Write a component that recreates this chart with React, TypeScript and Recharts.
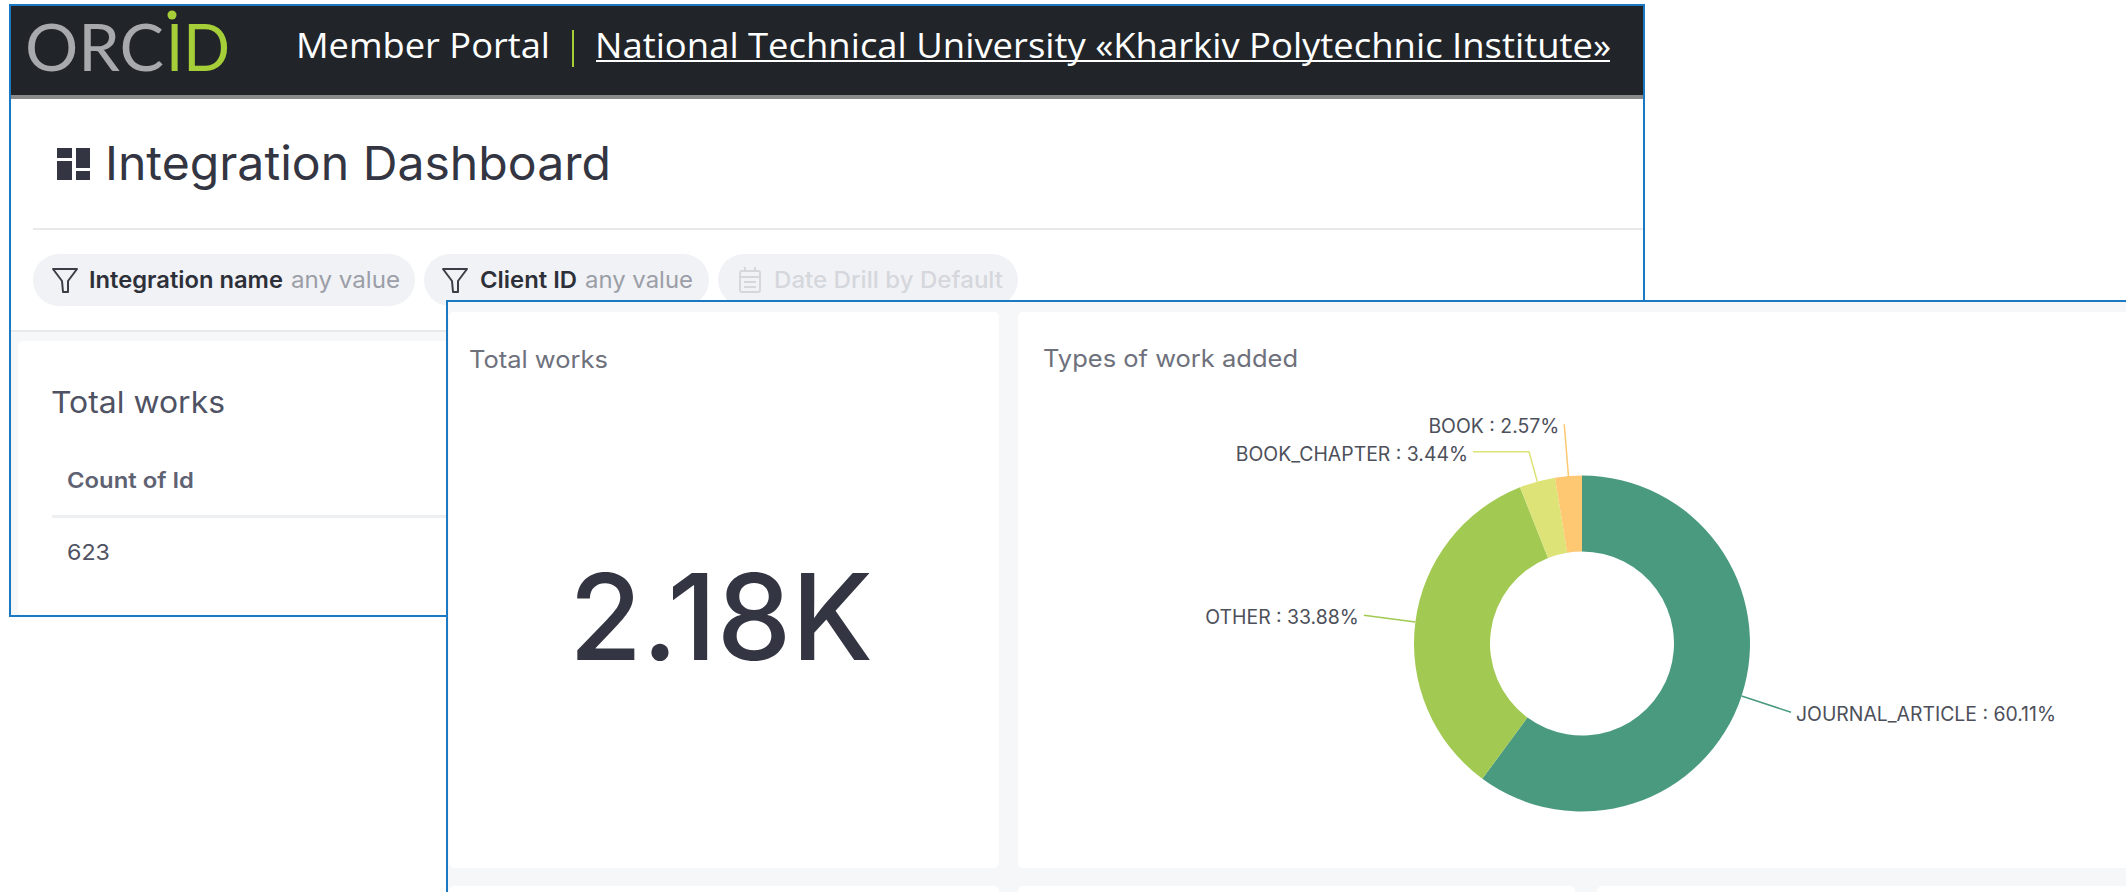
import { Cell, Pie, PieChart } from "recharts"

// Types of work added
const workTypes = ["JOURNAL_ARTICLE", "OTHER", "BOOK_CHAPTER", "BOOK"]
const workShares = [60.11, 33.88, 3.44, 2.57]
const sliceColors = ["#4a9a80", "#a2c952", "#dde376", "#fdc871"]

const chartData = workTypes.map((name, i) => ({ name, value: workShares[i] }))

// how far each leader line runs out from the centre, then sideways
const leaderReach: Record<string, number> = { JOURNAL_ARTICLE: 220, OTHER: 220, BOOK_CHAPTER: 199, BOOK: 220 }
const leaderElbow: Record<string, number> = { JOURNAL_ARTICLE: 0, OTHER: 0, BOOK_CHAPTER: 56, BOOK: 0 }

const INTER = "Inter, sans-serif"
const OPEN = "'Open Sans', sans-serif"
const BLUE = "#1b79c4"
const PANEL = "#f6f7f9"
const INK = "#333642"
const MUTED = "#6e717c"

const RADIAN = Math.PI / 180

function leaderPoints(props: any) {
  const { cx, cy, midAngle, outerRadius, name } = props
  const sin = Math.sin(midAngle * RADIAN)
  const cos = Math.cos(midAngle * RADIAN)
  const reach = leaderReach[name]
  const ex = cx + reach * cos
  const ey = cy - reach * sin
  const side = cos >= 0 ? 1 : -1
  return {
    sx: cx + outerRadius * cos,
    sy: cy - outerRadius * sin,
    ex,
    ey,
    tx: ex + side * leaderElbow[name],
    side,
  }
}

function SliceLabel(props: any) {
  const { name, value, index } = props
  const { tx, ey, side } = leaderPoints({ ...props, name: workTypes[index] ?? name })
  return (
    <text
      x={tx + side * 5}
      y={ey + 9}
      textAnchor={side > 0 ? "start" : "end"}
      fontFamily={INTER}
      fontSize={19.4}
      fill="#4d505a"
    >
      {`${workTypes[index] ?? name} : ${Number(value).toFixed(2)}%`}
    </text>
  )
}

function SliceLine(props: any) {
  const { index } = props
  const { sx, sy, ex, ey, tx } = leaderPoints({ ...props, name: workTypes[index] })
  return (
    <polyline
      points={`${sx},${sy} ${ex},${ey} ${tx},${ey}`}
      fill="none"
      stroke={sliceColors[index]}
      strokeWidth={1.5}
    />
  )
}

function Funnel({ x, stroke }: { x: number; stroke: string }) {
  return (
    <path
      d={`M${x} 269H${x + 24}L${x + 15} 281V292H${x + 10}L${x + 9} 281Z`}
      fill="none"
      stroke={stroke}
      strokeWidth={2}
      strokeLinejoin="round"
    />
  )
}

function Backdrop() {
  return (
    <svg width={2126} height={892} style={{ position: "absolute", left: 0, top: 0 }}>
      {/* back window */}
      <rect x={10} y={5} width={1634} height={611} fill="#fff" stroke={BLUE} strokeWidth={2} />
      <rect x={11} y={6} width={1632} height={89} fill="#212529" />
      <rect x={11} y={95} width={1632} height={4} fill="#8a8a8a" />

      <text x={25} y={71} fontFamily="Lato, sans-serif" fontWeight={400} fontSize={66} fill="#a7a9ac" textLength={139} lengthAdjust="spacingAndGlyphs">
        ORC
      </text>
      <text x={166} y={71} fontFamily="Lato, sans-serif" fontWeight={400} fontSize={66} fill="#a6ce39" textLength={64} lengthAdjust="spacingAndGlyphs">
        ID
      </text>
      <circle cx={172} cy={15} r={4.5} fill="#a6ce39" />

      <text x={296} y={58} fontFamily={OPEN} fontSize={35} fill="#fff" textLength={254} lengthAdjust="spacingAndGlyphs">
        Member Portal
      </text>
      <rect x={572} y={30} width={2} height={37} fill="#a6ce39" />
      <text x={595} y={58} fontFamily={OPEN} fontSize={35} fill="#fff" textLength={1016} lengthAdjust="spacingAndGlyphs">
        National Technical University «Kharkiv Polytechnic Institute»
      </text>
      <rect x={596} y={60} width={1014} height={2} fill="#fff" />

      <g fill={INK}>
        <rect x={57} y={148} width={15} height={10} />
        <rect x={57} y={161} width={15} height={19} />
        <rect x={76} y={148} width={14} height={20} />
        <rect x={76} y={171} width={14} height={9} />
      </g>
      <text x={105} y={180} fontFamily={INTER} fontSize={47} fill={INK} textLength={506} lengthAdjust="spacingAndGlyphs">
        Integration Dashboard
      </text>
      <rect x={33} y={228} width={1610} height={2} fill="#e8e9eb" />

      <rect x={33} y={254} width={382} height={52} rx={26} fill="#f1f2f6" />
      <Funnel x={53} stroke="#3a3d45" />
      <text x={89} y={288} fontFamily={INTER} fontWeight={600} fontSize={23} fill="#2d3038" textLength={194} lengthAdjust="spacingAndGlyphs">
        Integration name
      </text>
      <text x={291} y={288} fontFamily={INTER} fontSize={23} fill="#9b9ea7" textLength={109} lengthAdjust="spacingAndGlyphs">
        any value
      </text>

      <rect x={424} y={254} width={285} height={52} rx={26} fill="#f1f2f6" />
      <Funnel x={443} stroke="#3a3d45" />
      <text x={480} y={288} fontFamily={INTER} fontWeight={600} fontSize={23} fill="#2d3038" textLength={97} lengthAdjust="spacingAndGlyphs">
        Client ID
      </text>
      <text x={585} y={288} fontFamily={INTER} fontSize={23} fill="#9b9ea7" textLength={108} lengthAdjust="spacingAndGlyphs">
        any value
      </text>

      <rect x={718} y={254} width={300} height={52} rx={26} fill="#f1f2f6" />
      <g fill="none" stroke="#d5d7dc" strokeWidth={2}>
        <rect x={740} y={271} width={20} height={21} rx={2} />
        <path d="M745 267V272M755 267V272M741 277H759M744 282H756M744 287H756" />
      </g>
      <text x={774} y={288} fontFamily={INTER} fontWeight={500} fontSize={23} fill="#d5d7dc" textLength={229} lengthAdjust="spacingAndGlyphs">
        Date Drill by Default
      </text>

      <rect x={11} y={330} width={1632} height={2} fill="#e8e9eb" />
      <rect x={11} y={332} width={440} height={283} fill={PANEL} />
      <rect x={18} y={341} width={440} height={274} rx={5} fill="#fff" />
      <text x={51} y={413} fontFamily={INTER} fontSize={30} fill="#4f5263" textLength={174} lengthAdjust="spacingAndGlyphs">
        Total works
      </text>
      <text x={67} y={488} fontFamily={INTER} fontWeight={600} fontSize={22} fill="#5f6273" textLength={127} lengthAdjust="spacingAndGlyphs">
        Count of Id
      </text>
      <rect x={52} y={515} width={400} height={3} fill="#eeeff1" />
      <text x={67} y={560} fontFamily={INTER} fontSize={22} fill="#4f5263" textLength={43} lengthAdjust="spacingAndGlyphs">
        623
      </text>

      {/* front window */}
      <rect x={447} y={301} width={1700} height={620} fill={PANEL} stroke={BLUE} strokeWidth={2} />
      <rect x={449} y={312} width={550} height={556} rx={5} fill="#fff" />
      <rect x={1018} y={312} width={1120} height={556} rx={5} fill="#fff" />
      <rect x={449} y={886} width={550} height={20} rx={5} fill="#fff" />
      <rect x={1018} y={886} width={557} height={20} rx={5} fill="#fff" />
      <rect x={1597} y={886} width={540} height={20} rx={5} fill="#fff" />

      <text x={469} y={368} fontFamily={INTER} fontSize={24} fill={MUTED} textLength={139} lengthAdjust="spacingAndGlyphs">
        Total works
      </text>
      <text x={569} y={660} fontFamily={INTER} fontWeight={500} fontSize={120} fill={INK} textLength={304} lengthAdjust="spacingAndGlyphs">
        2.18K
      </text>
      <text x={1043} y={367} fontFamily={INTER} fontSize={24} fill={MUTED} textLength={255} lengthAdjust="spacingAndGlyphs">
        Types of work added
      </text>
    </svg>
  )
}

export default function App() {
  return (
    <div style={{ position: "absolute", left: 0, top: 0, width: 2126, height: 892, overflow: "hidden", background: "#fff" }}>
      <Backdrop />
      <div style={{ position: "absolute", left: 1018, top: 312 }}>
        <PieChart width={1108} height={556} margin={{ top: 0, right: 0, bottom: 0, left: 0 }}>
          <Pie
            data={chartData}
            dataKey="value"
            nameKey="name"
            cx={564}
            cy={331.5}
            innerRadius={92}
            outerRadius={168}
            startAngle={90}
            endAngle={-270}
            stroke="none"
            isAnimationActive={false}
            label={SliceLabel}
            labelLine={SliceLine}
          >
            {chartData.map((entry, index) => (
              <Cell key={`cell-${index}`} fill={sliceColors[index]} />
            ))}
          </Pie>
        </PieChart>
      </div>
    </div>
  )
}
